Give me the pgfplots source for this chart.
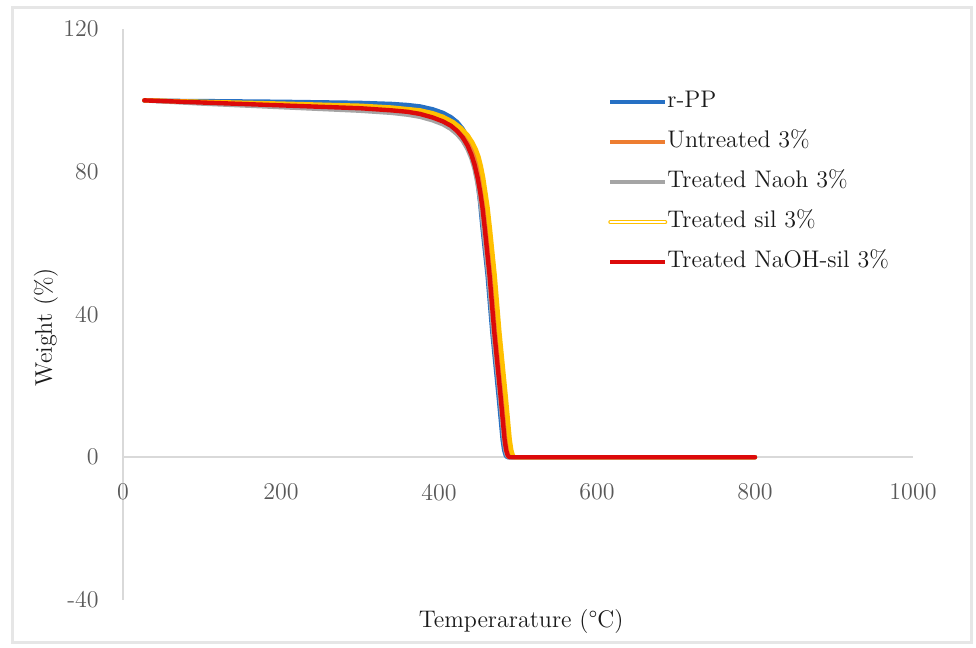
\documentclass[border=0pt]{standalone}
\usepackage{pgfplots}
\pgfplotsset{compat=1.18}
\definecolor{cblue}{HTML}{2670C4}
\definecolor{corange}{HTML}{ED7D31}
\definecolor{cgray}{HTML}{A5A5A5}
\definecolor{cyellow}{HTML}{FFC000}
\definecolor{cred}{HTML}{DC0A0A}
\definecolor{axgray}{HTML}{D9D9D9}
\definecolor{tickgray}{HTML}{595959}
\definecolor{bordergray}{HTML}{E6E6E6}

\pgfplotstableread{
x y
27 99.9
100 99.8
200 99.6
300 99.3
340 99.0
360 98.7
376 98.3
392 97.5
405 96.5
415 95.3
423 93.9
430 92.0
436 89.6
441 86.5
445 82.8
448.5 78
452 71.5
455 64.5
461.5 51
467.5 35
475.5 17
480.5 5
482.5 2
484.5 0.5
486 0.12
487.5 0
800 0
}\rpp
\pgfplotstableread{
x y
27 100
100 99.5
200 98.8
300 98.0
340 97.5
360 97.1
376 96.6
392 95.7
405 94.7
417 93.4
426 91.8
433 90.0
439 87.8
444 85.3
448 82.5
452 78.5
455 74.5
458 70
461 64
467 51
473 35
481 17
486 5
488 2
490 0.5
491.5 0.12
493 0
800 0
}\untreated
\pgfplotstableread{
x y
27 100
100 99.1
200 98.1
300 97.1
340 96.5
360 96.0
376 95.4
392 94.4
405 93.3
415 92.0
423 90.5
430 88.7
436 86.4
441 83.8
445 80.8
448.5 77
451.5 73
454 68.5
457 62.5
463 50
469 34
477 17
482 5
484 2
486 0.5
487.5 0.12
489 0
800 0
}\naoh
\pgfplotstableread{
x y
27 100
100 99.6
200 99.1
300 98.5
340 98.0
376 97.2
392 96.4
405 95.4
418 93.9
428 92.2
436 90.3
442 88.3
446.5 86.3
450 84.2
453 81.6
456 78.2
458.5 74.5
461.5 70
464.5 64
470.5 51
476.5 35
484.5 17
489.5 5
491.5 2
493.5 0.5
495 0.12
496.5 0
800 0
}\sil
\pgfplotstableread{
x y
27 100
100 99.4
200 98.6
300 97.8
340 97.2
360 96.8
376 96.2
392 95.2
405 94.1
415 92.9
423 91.4
430 89.6
436 87.4
441 84.8
445 82.0
449 78.2
452 74.5
455 70
458 64
464 51
470 35
478 17
483 5
485 2
487 0.5
488.5 0.12
490 0
800 0
}\naohsil

\begin{document}
\begin{tikzpicture}
\path[use as bounding box] (-61.5pt,-24pt) rectangle (426.5pt,300pt);
\draw[bordergray, line width=1.5pt] (-55pt,-21.5pt) rectangle (424pt,296pt);
\begin{axis}[
  at={(0pt,0pt)}, anchor=south west,
  scale only axis, width=395pt, height=285.5pt,
  xmin=0, xmax=1000, ymin=-40, ymax=120,
  axis x line=middle, axis y line=left,
  axis line style={draw=axgray, line width=0.75pt, -},
  hide obscured x ticks=false, hide obscured y ticks=false,
  xtick={0,200,400,600,800,1000}, ytick={-40,0,40,80,120},
  major tick length=0pt,
  /pgf/number format/assume math mode=true,
  /pgf/number format/1000 sep={},
  tick label style={text=tickgray, font=\fontsize{12}{14}\selectfont, inner sep=0pt},
  xticklabel style={anchor=center, yshift=-17.5pt},
  yticklabel style={anchor=east, xshift=-12pt},
  xlabel={Temperarature (°C)},
  ylabel={Weight (\%)},
  label style={font=\fontsize{12}{14}\selectfont, text=black!90},
  x label style={at={(axis description cs:0.504,-0.0385)}, anchor=center},
  y label style={at={(axis description cs:-0.0975,0.478)}, anchor=center},
  legend style={at={(axis cs:614,102.3)}, anchor=north west, draw=none, fill=none,
    inner sep=0pt, outer sep=0pt, row sep=10pt,
    nodes={inner sep=0pt, text height=7.5pt, text depth=2.5pt, text=black!90, font=\fontsize{12}{14}\selectfont},
    /tikz/every even column/.append style={column sep=3pt}},
  legend cell align=left,
  legend image code/.code={\draw[#1, line cap=butt] (0pt,0pt) -- (27.5pt,0pt);},
  every axis plot/.append style={line width=2.2pt, line join=round, line cap=round},
]
\addplot[cblue] table[x=x,y=y] {\rpp};
\addlegendentry{r-PP}
\addplot[corange] table[x=x,y=y] {\untreated};
\addlegendentry{Untreated 3\%}
\addplot[cgray] table[x=x,y=y] {\naoh};
\addlegendentry{Treated Naoh 3\%}
\addplot[cyellow, legend image code/.code={\draw[cyellow, line width=0.6pt, double=white, double distance=0.8pt] (0pt,0pt) -- (27.5pt,0pt);}] table[x=x,y=y] {\sil};
\addlegendentry{Treated sil 3\%}
\addplot[cred] table[x=x,y=y] {\naohsil};
\addlegendentry{Treated NaOH-sil 3\%}
\end{axis}
\end{tikzpicture}
\end{document}
